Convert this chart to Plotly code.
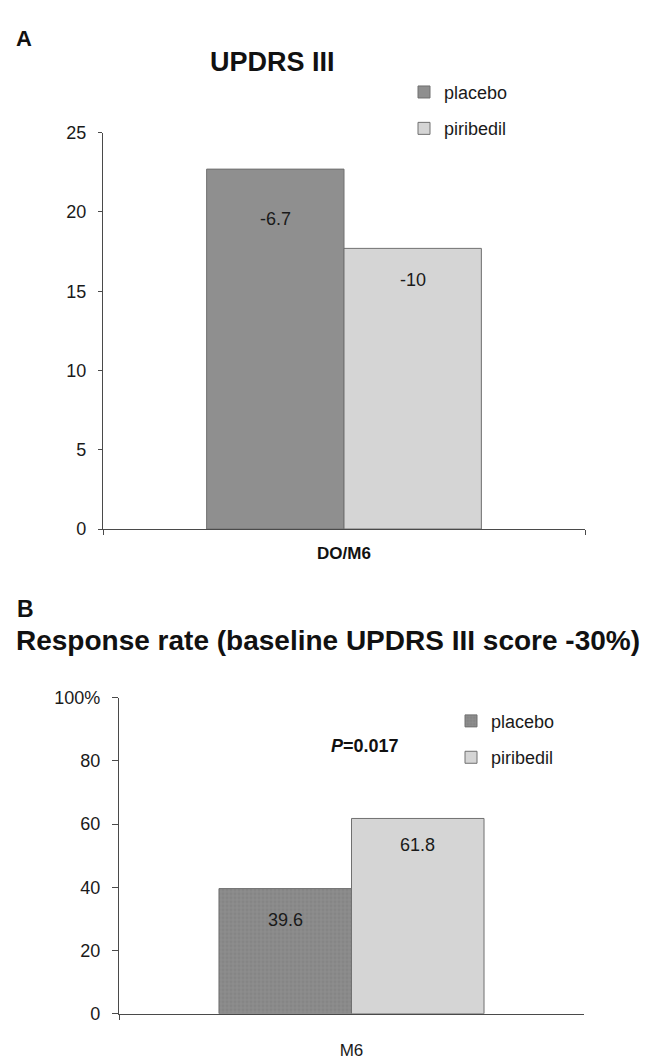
import plotly.graph_objects as go

# ---------------- data ----------------
series_names = ["placebo", "piribedil"]

categories_a = ["DO/M6"]
placebo_a = [22.7]
piribedil_a = [17.7]
labels_a = ["-6.7", "-10"]
yticks_a = [0, 5, 10, 15, 20, 25]

categories_b = ["M6"]
placebo_b = [39.6]
piribedil_b = [61.8]
labels_b = ["39.6", "61.8"]
yticks_b = [0, 20, 40, 60, 80, 100]
yticktext_b = ["0", "20", "40", "60", "80", "100%"]

# ---------------- styling ----------------
W, H = 651, 1060
FONT = "Liberation Sans, Arial, sans-serif"
C_PLA = "#8f8f8f"
C_PIR = "#d5d5d5"
C_EDGE = "#707070"
C_AX = "#4a4a4a"
BARGAP = 0.43


def px_x(p):
    return p / W


def px_y(p):
    return 1 - p / H


fig = go.Figure()

# Panel A
fig.add_trace(go.Bar(x=categories_a, y=placebo_a, name=series_names[0],
                     marker=dict(color=C_PLA, line=dict(color=C_EDGE, width=1)),
                     xaxis="x", yaxis="y", legend="legend", legendgroup="a1"))
fig.add_trace(go.Bar(x=categories_a, y=piribedil_a, name=series_names[1],
                     marker=dict(color=C_PIR, line=dict(color=C_EDGE, width=1)),
                     xaxis="x", yaxis="y", legend="legend", legendgroup="a2"))

# Panel B
fig.add_trace(go.Bar(x=categories_b, y=placebo_b, name=series_names[0],
                     marker=dict(color="#858585", line=dict(color=C_EDGE, width=1),
                                 pattern=dict(shape="+", size=4, solidity=0.25,
                                              fgcolor="#a8a8a8", bgcolor="#858585")),
                     xaxis="x2", yaxis="y2", legend="legend2", legendgroup="b1"))
fig.add_trace(go.Bar(x=categories_b, y=piribedil_b, name=series_names[1],
                     marker=dict(color=C_PIR, line=dict(color=C_EDGE, width=1)),
                     xaxis="x2", yaxis="y2", legend="legend2", legendgroup="b2"))

half = (1 - BARGAP) / 4
annotations = []
# bar value labels
for i, (v, t, ys) in enumerate(zip([placebo_a[0], piribedil_a[0]], labels_a, [-38, -20])):
    annotations.append(dict(x=(-half if i == 0 else half), y=v, xref="x", yref="y",
                            text=t, showarrow=False, yanchor="top", yshift=ys,
                            font=dict(size=18, color="#1a1a1a", family=FONT)))
for i, (v, t, ys) in enumerate(zip([placebo_b[0], piribedil_b[0]], labels_b, [-19, -15])):
    annotations.append(dict(x=(-half if i == 0 else half), y=v, xref="x2", yref="y2",
                            text=t, showarrow=False, yanchor="top", yshift=ys,
                            font=dict(size=18, color="#1a1a1a", family=FONT)))

# panel letters and titles
annotations += [
    dict(x=px_x(14), y=px_y(29), xref="paper", yref="paper", text="<b>A</b>",
         showarrow=False, xanchor="left", yanchor="middle",
         font=dict(size=22, color="#111", family=FONT)),
    dict(x=px_x(272), y=px_y(53), xref="paper", yref="paper", text="<b>UPDRS III</b>",
         showarrow=False, xanchor="center", yanchor="middle",
         font=dict(size=27, color="#111", family=FONT)),
    dict(x=px_x(15), y=px_y(611), xref="paper", yref="paper", text="<b>B</b>",
         showarrow=False, xanchor="left", yanchor="middle",
         font=dict(size=23, color="#111", family=FONT)),
    dict(x=px_x(14), y=px_y(643), xref="paper", yref="paper",
         text="<b>Response rate (baseline UPDRS III score -30%)</b>",
         showarrow=False, xanchor="left", yanchor="middle",
         font=dict(size=28, color="#111", family=FONT)),
    dict(x=px_x(365), y=px_y(750), xref="paper", yref="paper",
         text="<b><i>P</i>=0.017</b>",
         showarrow=False, xanchor="center", yanchor="middle",
         font=dict(size=18, color="#111", family=FONT)),
]

axis_common = dict(showline=True, linecolor=C_AX, linewidth=1.2, showgrid=False,
                   zeroline=False, ticks="outside", tickcolor=C_AX, tickwidth=1.2,
                   tickfont=dict(size=18, color="#1a1a1a", family=FONT))

fig.update_layout(
    width=W, height=H,
    margin=dict(l=0, r=0, t=0, b=0),
    paper_bgcolor="white", plot_bgcolor="white",
    barmode="group", bargap=BARGAP, bargroupgap=0,
    font=dict(family=FONT, color="#222"),
    showlegend=True,
    annotations=annotations,
    xaxis=dict(axis_common, domain=[px_x(103), px_x(585)], anchor="y",
               type="category", tickson="boundaries", ticklen=5,
               ticklabelstandoff=8,
               tickfont=dict(size=17, color="#111", family=FONT),
               tickvals=categories_a, ticktext=["<b>DO/M6</b>"]),
    yaxis=dict(axis_common, domain=[px_y(529), px_y(125)], anchor="x",
               range=[0, 25], tickvals=yticks_a, ticklen=4, ticklabelstandoff=8),
    xaxis2=dict(axis_common, domain=[px_x(119), px_x(584)], anchor="y2",
                type="category", tickson="boundaries", ticklen=5,
                ticklabelstandoff=21,
                tickfont=dict(size=17, color="#1a1a1a", family=FONT)),
    yaxis2=dict(axis_common, domain=[px_y(1023), px_y(701)], anchor="x2",
                range=[0, 100], tickvals=yticks_b, ticktext=yticktext_b,
                ticklen=6, ticklabelstandoff=8),
    legend=dict(x=px_x(404), y=px_y(65), xanchor="left", yanchor="top",
                bgcolor="rgba(0,0,0,0)", tracegroupgap=10,
                font=dict(size=18, color="#1a1a1a", family=FONT)),
    legend2=dict(x=px_x(451), y=px_y(706), xanchor="left", yanchor="top",
                 bgcolor="rgba(0,0,0,0)", tracegroupgap=10,
                 font=dict(size=18, color="#1a1a1a", family=FONT)),
)

fig.write_html("out.html")
